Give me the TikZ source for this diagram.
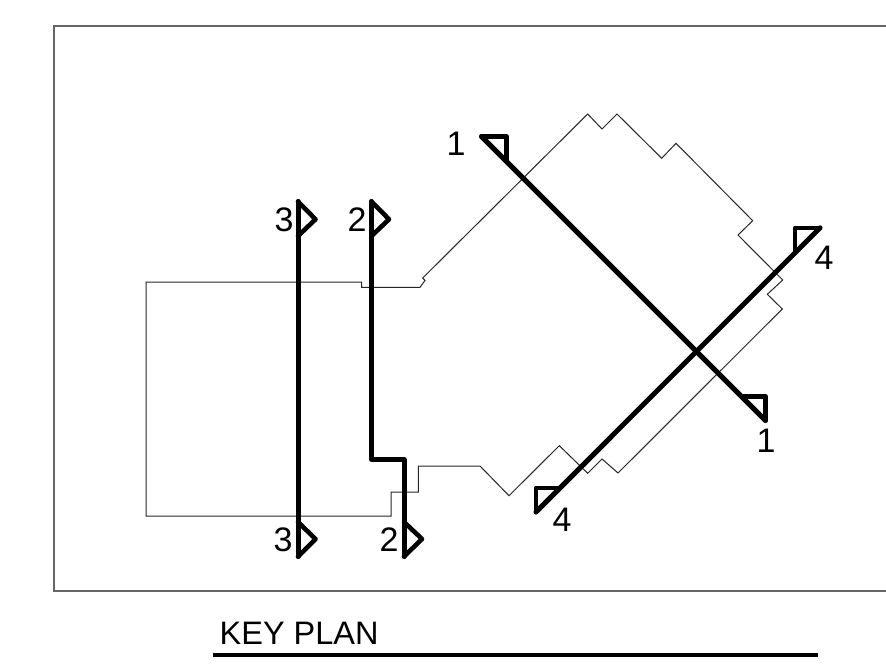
\documentclass[tikz,border=0pt]{standalone}
\usepackage{fontspec}
\setmainfont{Liberation Sans}
\tikzset{
  thinline/.style={draw=black!85, line width=1pt, line join=miter},
  cutline/.style={draw=black, line width=5pt, line join=round, line cap=round},
  flagline/.style={draw=black, line width=4.6pt, line join=round, line cap=round},
  lbl/.style={inner sep=0pt, anchor=base, font=\fontsize{34}{34}\selectfont},
}
\begin{document}
\begin{tikzpicture}[x=1pt,y=-1pt]
\useasboundingbox (0,0) rectangle (886,665);
% frame
\draw[draw=black!60, line width=1.5pt] (886,26) -- (54,26) -- (54,591) -- (886,591);
% building outline
\draw[thinline] (146,282) -- (361.5,282) -- (361.5,287.3) -- (420,287.3) -- (425,280.5) -- (422.7,278)
  -- (587.7,114) -- (602,129) -- (617,114) -- (661.7,158.3) -- (676,143.3) -- (752.7,220.7)
  -- (738,235) -- (782.7,280) -- (767.3,294.3) -- (782.3,309) -- (618,473) -- (602,459)
  -- (587.7,473.3) -- (559.3,445.7) -- (509,495.7) -- (480,466) -- (418.3,466) -- (418.3,492)
  -- (391,492) -- (391,516) -- (146,516) -- cycle;
% section 3
\draw[cutline] (298,201.5) -- (298,556.5);
\draw[flagline] (298,201.5) -- (315.5,219.3) -- (298,236);
\draw[flagline] (298,522) -- (315.5,539) -- (298,556.5);
% section 2
\draw[cutline] (371.5,201.5) -- (371.5,459.5) -- (404,459.5) -- (404,556.5);
\draw[flagline] (371.5,201.5) -- (389,219.3) -- (371.5,236);
\draw[flagline] (404,522) -- (422,539) -- (404,556.5);
% section 1
\draw[cutline] (481.5,136.5) -- (765.5,420.5);
\draw[flagline] (481.5,136.5) -- (506.5,136.5) -- (506.5,160);
\draw[flagline] (743,396.5) -- (765.5,396.5) -- (765.5,420.5);
% section 4
\draw[cutline] (820,227.8) -- (536,512);
\draw[flagline] (820,227.8) -- (795,227.8) -- (795,252);
\draw[flagline] (536,512) -- (536,488) -- (559,488);
% labels
\node[lbl] (l1a) at (456,155) {1};
\node[lbl] (l1b) at (766,452.7) {1};
\node[lbl] (l2a) at (357,231) {2};
\node[lbl] (l2b) at (389,551) {2};
\node[lbl] (l3a) at (284,231) {3};
\node[lbl] (l3b) at (283,551) {3};
\node[lbl] (l4a) at (824,269) {4};
\node[lbl] (l4b) at (562,531.7) {4};
\node[lbl, anchor=base west, font=\fontsize{32.5}{33}\selectfont] (title) at (219.5,644) {KEY PLAN};
\draw[draw=black, line width=3.8pt] (213,655) -- (817.5,655);
\end{tikzpicture}
\end{document}
